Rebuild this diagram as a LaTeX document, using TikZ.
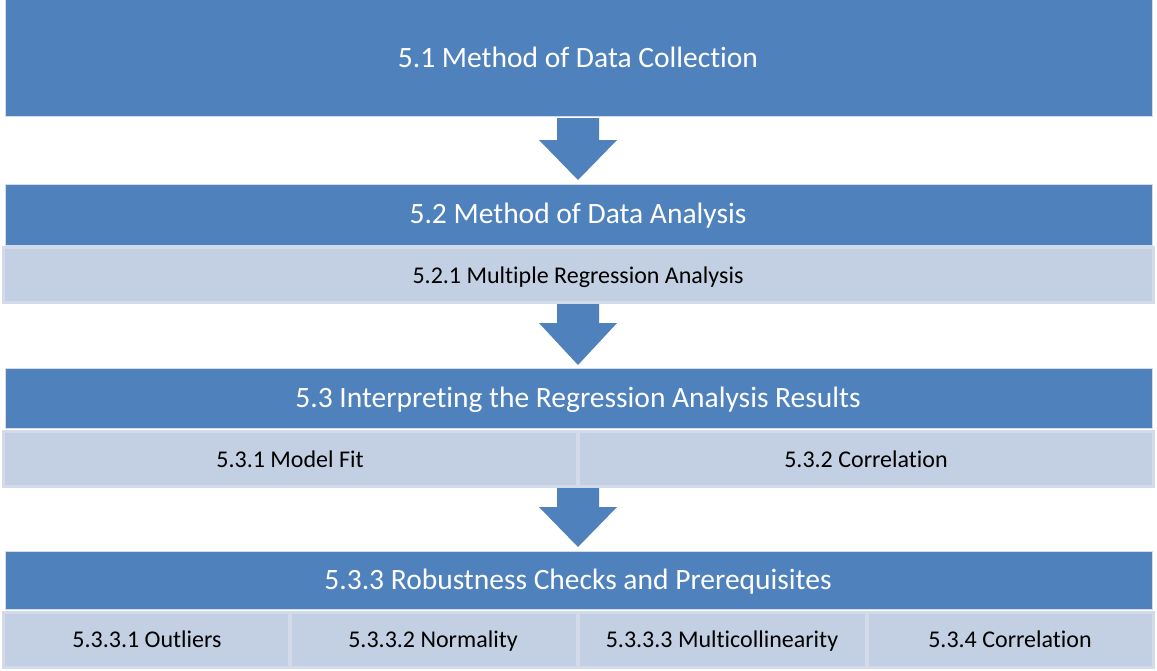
\documentclass[tikz,border=0pt]{standalone}
\usepackage{fontspec}
\setmainfont{Carlito}[Ligatures=NoCommon]
\definecolor{hdrblue}{HTML}{4F81BD}
\definecolor{subfill}{HTML}{C3CFE2}
\definecolor{subedge}{HTML}{D3DBEA}
\begin{document}
\begin{tikzpicture}[x=1pt,y=-1pt,
  hdr/.style={fill=hdrblue,draw=subedge,line width=1pt},
  sub/.style={fill=subfill,draw=subedge,line width=3pt},
  hdrtext/.style={text=white,font=\fontsize{29.5}{34}\selectfont,text height=0.7em,text depth=0.2em,inner sep=0pt},
  subtext/.style={text=black,font=\fontsize{24}{28}\selectfont,text height=0.7em,text depth=0.2em,inner sep=0pt},
  downarrow/.style={fill=hdrblue,draw=none}]
\useasboundingbox (0,0) rectangle (1157,670);
\fill[white] (0,0) rectangle (1157,670);

% level 1
\draw[hdr] (5,-1) rectangle (1152,116);
\node[hdrtext] (t1) at (578,65) {5.1 Method of Data Collection};

% level 2
\draw[hdr] (5,184) rectangle (1152,245);
\node[hdrtext] (t2) at (578,221) {5.2 Method of Data Analysis};
\draw[sub] (3.5,247.5) rectangle (1153.5,302);
\node[subtext] (s21) at (578,281) {5.2.1 Multiple Regression Analysis};

% level 3
\draw[hdr] (5,368) rectangle (1152,428);
\node[hdrtext] (t3) at (578,405) {5.3 Interpreting the Regression Analysis Results};
\draw[sub] (3.5,431.5) rectangle (577,486);
\draw[sub] (578,431.5) rectangle (1153.5,486);
\node[subtext] (s31) at (290,465) {5.3.1 Model Fit};
\node[subtext] (s32) at (866,465) {5.3.2 Correlation};

% level 4
\draw[hdr] (5,551) rectangle (1152,609);
\node[hdrtext] (t4) at (578,587) {5.3.3 Robustness Checks and Prerequisites};
\draw[sub] (3.5,612) rectangle (289,667.5);
\draw[sub] (290,612) rectangle (577,667.5);
\draw[sub] (578,612) rectangle (866,667.5);
\draw[sub] (867,612) rectangle (1153.5,667.5);
\node[subtext] (s41) at (147,645) {5.3.3.1 Outliers};
\node[subtext] (s42) at (433,645) {5.3.3.2 Normality};
\node[subtext] (s43) at (722,645) {5.3.3.3 Multicollinearity};
\node[subtext] (s44) at (1010,645) {5.3.4 Correlation};

% block arrows between levels
\foreach \top/\neck/\tip in {118/140/180, 304/323/365, 488/507/547}{
  \fill[downarrow] (557,\top) -- (599,\top) -- (599,\neck) -- (617,\neck)
     -- (578,\tip) -- (539,\neck) -- (557,\neck) -- cycle;
}
\end{tikzpicture}
\end{document}
